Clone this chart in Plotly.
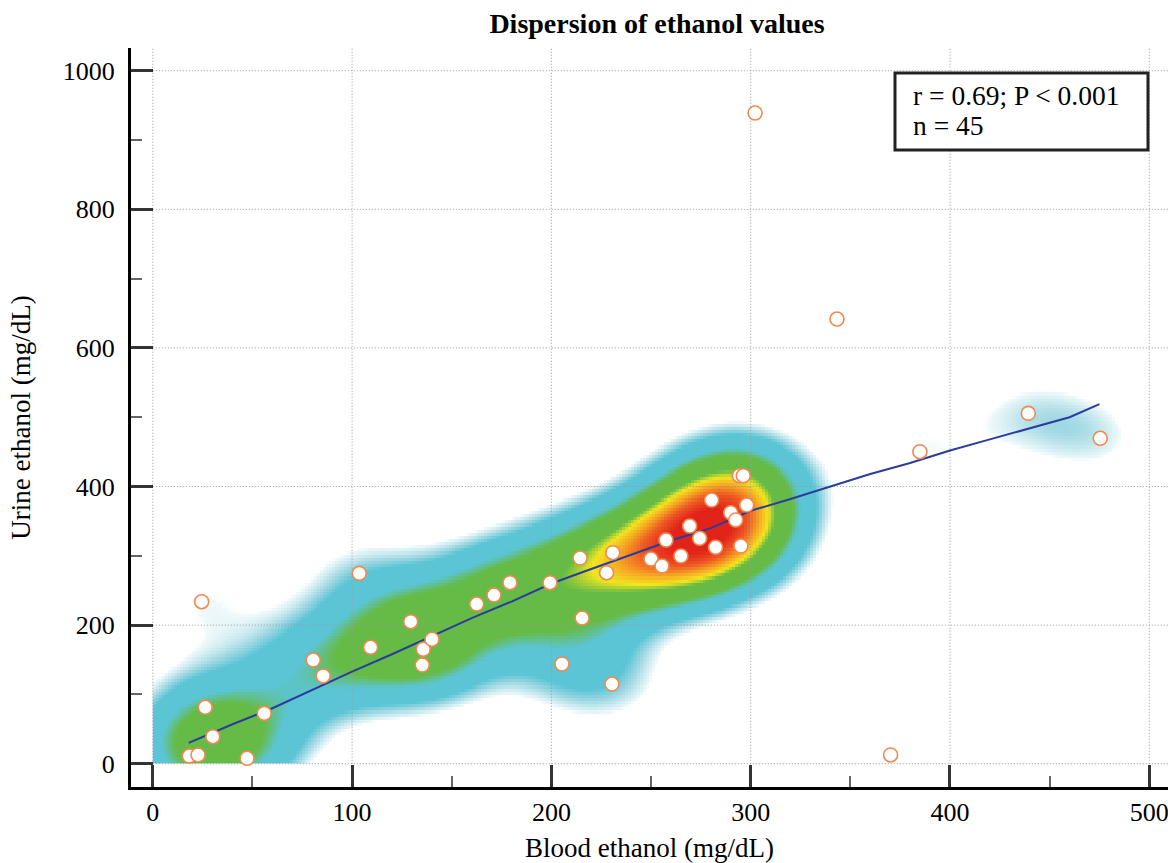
import numpy as np
import plotly.graph_objects as go

# ---------------- data ----------------
blood_ethanol = [18.3, 22.7, 24.5, 26.3, 30.1, 47.3, 55.9, 80.5, 85.5, 103.6,
                 109.3, 129.4, 135.2, 135.7, 140.1, 162.5, 171.2, 179.2, 199.3, 205.3,
                 214.4, 215.4, 227.7, 230.4, 230.8, 250.0, 255.5, 257.5, 265.0, 269.4,
                 274.4, 280.4, 282.4, 290.0, 292.5, 294.3, 296.3, 295.1, 298.0, 302.2,
                 343.3, 384.9, 370.2, 439.3, 475.4]
urine_ethanol = [11.1, 12.6, 233.8, 81.4, 39.0, 7.8, 72.7, 149.6, 126.6, 274.7,
                 168.0, 204.9, 142.4, 165.1, 179.5, 230.4, 243.4, 261.2, 261.2, 143.9,
                 296.8, 210.2, 275.6, 115.0, 304.5, 295.4, 285.3, 322.8, 299.7, 343.0,
                 325.3, 380.5, 312.3, 362.2, 351.7, 415.6, 415.6, 314.1, 373.3, 939.0,
                 641.7, 450.2, 12.6, 505.6, 469.6]

# smoothed (LOESS-type) curve
smooth_x = [18, 40, 60, 80, 100, 120, 140, 160, 180, 200, 220, 240, 260, 280,
            300, 320, 340, 360, 380, 400, 420, 440, 460, 475]
smooth_y = [30, 57, 80, 107, 133, 158, 184, 210, 234, 260, 281, 301, 322, 340,
            365, 382, 400, 418, 434, 452, 468, 484, 500, 519]

x_ticks = [0, 100, 200, 300, 400, 500]
x_minor = [50, 150, 250, 350, 450]
y_ticks = [0, 200, 400, 600, 800, 1000]
y_minor = [100, 300, 500, 700, 900]

title_text = "Dispersion of ethanol values"
x_title = "Blood ethanol (mg/dL)"
y_title = "Urine ethanol (mg/dL)"
stats_lines = ["r = 0.69; P &lt; 0.001", "n = 45"]

# ---------------- layout geometry (pixels of the 1168x863 page) ----------------
X_RANGE = [-10.94, 509.4]
Y_RANGE = [-33.6, 1032.8]
PL, PR, PT, PB = 131, 1168, 48, 787          # plot area edges
FONT = "Liberation Serif, Times New Roman, serif"


def px_x(p):
    return (p - PL) / (PR - PL)


def px_y(p):
    return (PB - p) / (PB - PT)


# ---------------- density (kernel smoothing of the points) ----------------
bx = np.array(blood_ethanol)
uy = np.array(urine_ethanol)
gx = np.arange(0.75, 500, 1.5)
gy = np.arange(2.25, 1000, 4.5)
hx, hy = 25.0, 55.0
Kx = np.exp(-((gx[None, :] - bx[:, None]) ** 2) / (2 * hx ** 2))
Ky = np.exp(-((gy[None, :] - uy[:, None]) ** 2) / (2 * hy ** 2))
dens = Ky.T @ Kx          # 1.0 == peak of a single isolated point
dmax = float(dens.max())

# low levels in absolute units (multiples of a single point's peak), high levels relative
low_stops = [(0.0, "rgba(255,255,255,0)"), (1.03, "rgba(255,255,255,0)"),
             (1.08, "#eff9fb"), (1.25, "#cdebf0"), (1.48, "#9dd7e2"), (1.8, "#5bc5d6")]
high_stops = [(0.30, "#5bc5d6"), (0.37, "#66bb46"), (0.54, "#66bb46"),
              (0.61, "#f2e51f"), (0.70, "#f6a623"), (0.80, "#ee5a24"), (0.92, "#e2231a"),
              (1.00, "#e2231a")]
colorscale = [[lv / dmax, c] for lv, c in low_stops] + [[f, c] for f, c in high_stops]

fig = go.Figure()
fig.add_trace(go.Heatmap(x=gx, y=gy, z=dens, colorscale=colorscale, zmin=0, zmax=dmax,
                         zsmooth=False, showscale=False, hoverinfo="skip"))

# dotted grid drawn over the density
gxs, gys = [], []
for v in x_ticks:
    gxs += [v, v, None]
    gys += [0, Y_RANGE[1], None]
for v in y_ticks:
    gxs += [0, X_RANGE[1], None]
    gys += [v, v, None]
fig.add_trace(go.Scatter(x=gxs, y=gys, mode="lines", hoverinfo="skip",
                         line=dict(color="#9a9a9a", width=1, dash="1px,2px"),
                         showlegend=False))

fig.add_trace(go.Scatter(x=smooth_x, y=smooth_y, mode="lines", hoverinfo="skip",
                         line=dict(color="#2b3c9c", width=2), showlegend=False))

fig.add_trace(go.Scatter(x=blood_ethanol, y=urine_ethanol, mode="markers",
                         marker=dict(size=14, color="white",
                                     line=dict(color="#ee8a4f", width=1.6)),
                         showlegend=False))

axis_common = dict(
    showline=True, linecolor="black", linewidth=3, mirror=False,
    ticks="inside", ticklen=22, tickwidth=3, tickcolor="#333333",
    showgrid=False, zeroline=False, automargin=False, ticklabeloverflow="allow",
    tickfont=dict(family=FONT, size=26, color="black"),
)

fig.update_xaxes(range=X_RANGE, tickvals=x_ticks, **axis_common,
                 minor=dict(tickvals=x_minor, ticks="inside", ticklen=11,
                            tickwidth=2, tickcolor="#666666", showgrid=False),
                 ticklabelstandoff=0,
                 title=dict(text=x_title, font=dict(family=FONT, size=27, color="black"),
                            standoff=29))
fig.update_yaxes(range=Y_RANGE, tickvals=y_ticks, **axis_common,
                 minor=dict(tickvals=y_minor, ticks="inside", ticklen=11,
                            tickwidth=2, tickcolor="#666666", showgrid=False),
                 ticklabelstandoff=8,
                 title=dict(text=y_title, font=dict(family=FONT, size=27, color="black"),
                            standoff=25))

# statistics box
fig.add_shape(type="rect", xref="paper", yref="paper", layer="above",
              x0=px_x(895), x1=px_x(1148), y0=px_y(150), y1=px_y(73),
              line=dict(color="#222222", width=3), fillcolor="white")
for txt, ypix in zip(stats_lines, [95, 126]):
    fig.add_annotation(xref="paper", yref="paper", x=px_x(911), y=px_y(ypix),
                       xanchor="left", yanchor="middle", showarrow=False, align="left",
                       text=txt, font=dict(family=FONT, size=27.5, color="black"))

fig.update_layout(
    width=1168, height=863,
    margin=dict(l=PL, r=1168 - PR, t=PT, b=863 - PB, autoexpand=False),
    paper_bgcolor="white", plot_bgcolor="white",
    title=dict(text="<b>" + title_text + "</b>", xref="container", yref="container",
               x=657 / 1168, xanchor="center", y=1 - 23 / 863, yanchor="middle",
               automargin=False,
               font=dict(family=FONT, size=28, color="black")),
    showlegend=False,
)

fig.write_html("out.html", config={"displayModeBar": False},
               post_script="document.body.style.margin='0px';document.body.style.overflow='hidden';")
